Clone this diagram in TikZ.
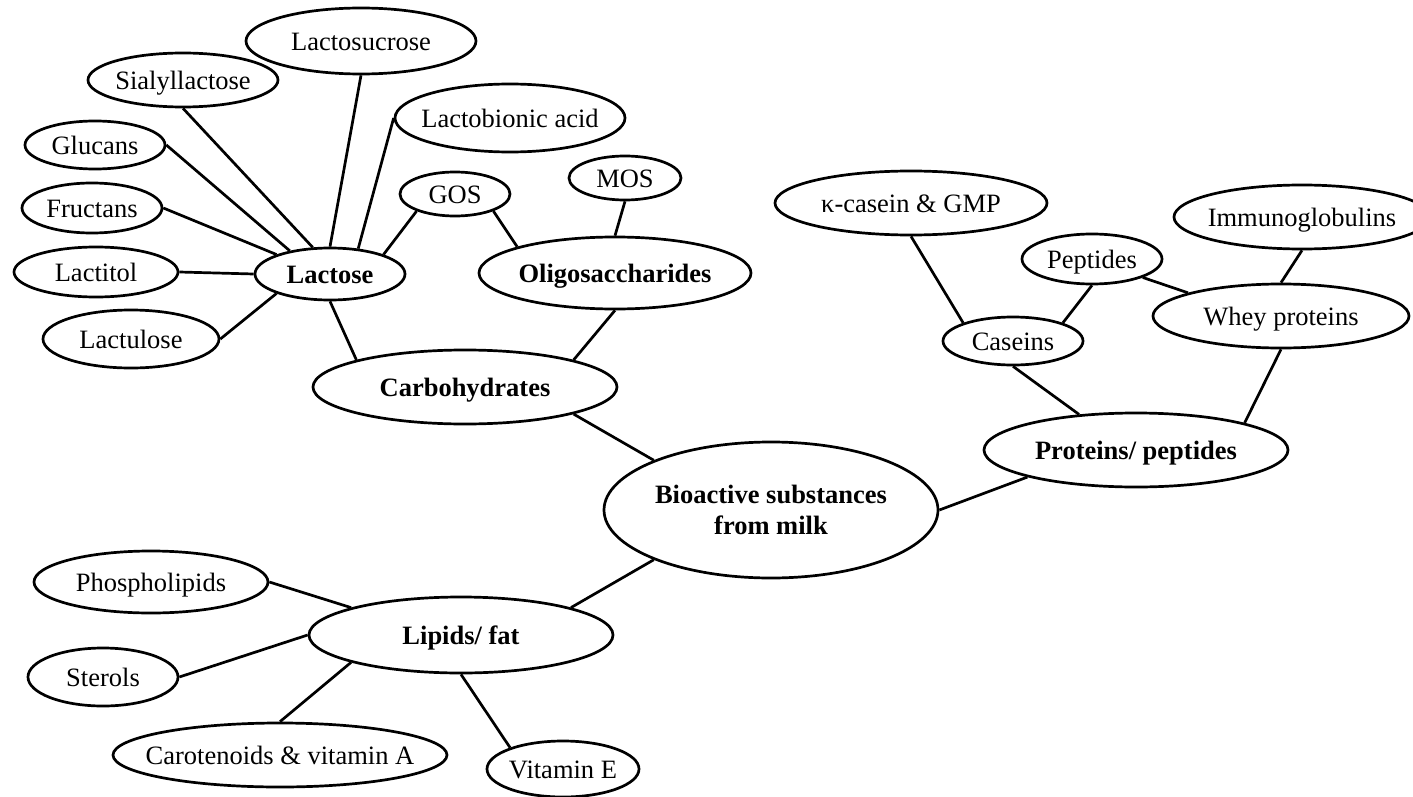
\documentclass[tikz,border=0pt]{standalone}
\usepackage{fontspec}
\setmainfont{Liberation Serif}
\usetikzlibrary{shapes.geometric}
% zero-width label so the ellipse keeps its given size
\newcommand\mklabel[1]{\makebox[0pt]{#1}}
\begin{document}
\begin{tikzpicture}[x=1pt,y=-1pt,
  bubble/.style={ellipse, draw, line width=2.7pt, inner sep=0pt,
    font=\fontsize{26.5}{31}\selectfont, text height=19pt, text depth=0pt},
  hub/.style={bubble, font=\fontsize{26.5}{31}\selectfont\bfseries},
  link/.style={line width=2.7pt}]
\clip (0,0) rectangle (1413,797);
\fill[white] (0,0) rectangle (1413,797);

% carbohydrate branch
\node[bubble, minimum width=230pt, minimum height=66pt] (lsuc) at (361,41) {\mklabel{Lactosucrose}};
\node[bubble, minimum width=190pt, minimum height=54pt] (sial) at (183,80) {\mklabel{Sialyllactose}};
\node[bubble, minimum width=230pt, minimum height=68pt] (lbio) at (510,118) {\mklabel{Lactobionic acid}};
\node[bubble, minimum width=140pt, minimum height=48pt] (gluc) at (95,145) {\mklabel{Glucans}};
\node[bubble, minimum width=140pt, minimum height=50pt] (fruc) at (92,208) {\mklabel{Fructans}};
\node[bubble, minimum width=164pt, minimum height=50pt] (ltol) at (96,272) {\mklabel{Lactitol}};
\node[bubble, minimum width=176pt, minimum height=58pt] (lulo) at (131,339) {\mklabel{Lactulose}};
\node[hub, minimum width=150pt, minimum height=52pt] (lact) at (330,274) {\mklabel{Lactose}};
\node[bubble, minimum width=110pt, minimum height=44pt] (gos) at (455,194) {\mklabel{GOS}};
\node[bubble, minimum width=112pt, minimum height=44pt] (mos) at (625,178) {\mklabel{MOS}};
\node[hub, minimum width=272pt, minimum height=72pt] (olig) at (615,273) {\mklabel{Oligosaccharides}};
\node[hub, minimum width=304pt, minimum height=74pt] (carb) at (465,387) {\mklabel{Carbohydrates}};

% centre
\node[ellipse, draw, line width=2.7pt, inner sep=0pt, align=center,
  font=\fontsize{26.5}{31}\selectfont\bfseries,
  minimum width=334pt, minimum height=136pt] (bio) at (771,510)
  {Bioactive substances\\from milk};

% protein branch
\node[hub, minimum width=304pt, minimum height=74pt] (prot) at (1136,450) {\mklabel{Proteins/ peptides}};
\node[bubble, minimum width=272pt, minimum height=64pt] (kcas) at (911,203) {\mklabel{κ-casein \& GMP}};
\node[bubble, minimum width=256pt, minimum height=64pt] (imm) at (1302,217) {\mklabel{Immunoglobulins}};
\node[bubble, minimum width=140pt, minimum height=50pt] (pep) at (1092,259) {\mklabel{Peptides}};
\node[bubble, minimum width=256pt, minimum height=64pt] (whey) at (1281,316) {\mklabel{Whey proteins}};
\node[bubble, minimum width=140pt, minimum height=48pt] (cas) at (1013,341) {\mklabel{Caseins}};

% lipid branch
\node[bubble, minimum width=234pt, minimum height=62pt] (phos) at (151,582) {\mklabel{Phospholipids}};
\node[hub, minimum width=304pt, minimum height=76pt] (lip) at (461,635) {\mklabel{Lipids/ fat}};
\node[bubble, minimum width=150pt, minimum height=58pt] (ster) at (103,677) {\mklabel{Sterols}};
\node[bubble, minimum width=334pt, minimum height=64pt] (caro) at (280,755) {\mklabel{Carotenoids \& vitamin A}};
\node[bubble, minimum width=152pt, minimum height=56pt] (vite) at (563,769) {\mklabel{Vitamin E}};

% connectors
\draw[link] (sial.270) -- (lact.123);
\draw[link] (lsuc.270) -- (lact.90);
\draw[link] (lbio.180) -- (lact.42);
\draw[link] (gluc.0) -- (lact.150);
\draw[link] (fruc.0) -- (lact.160);
\draw[link] (ltol.0) -- (lact.180);
\draw[link] (lulo.0) -- (lact.200);
\draw[link] (gos.204) -- (lact.20);
\draw[link] (gos.336) -- (olig.165);
\draw[link] (mos.270) -- (olig.90);
\draw[link] (lact.270) -- (carb.166);
\draw[link] (olig.270) -- (carb.14);
\draw[link] (carb.346) -- (bio.157);
\draw[link] (bio.0) -- (prot.194);
\draw[link] (bio.203) -- (lip.14);
\draw[link] (cas.270) -- (prot.148);
\draw[link] (whey.270) -- (prot.14);
\draw[link] (kcas.270) -- (cas.160);
\draw[link] (pep.270) -- (cas.20);
\draw[link] (pep.340) -- (whey.166);
\draw[link] (imm.270) -- (whey.90);
\draw[link] (phos.0) -- (lip.166);
\draw[link] (ster.0) -- (lip.180);
\draw[link] (caro.90) -- (lip.194);
\draw[link] (vite.158) -- (lip.270);
\end{tikzpicture}
\end{document}
